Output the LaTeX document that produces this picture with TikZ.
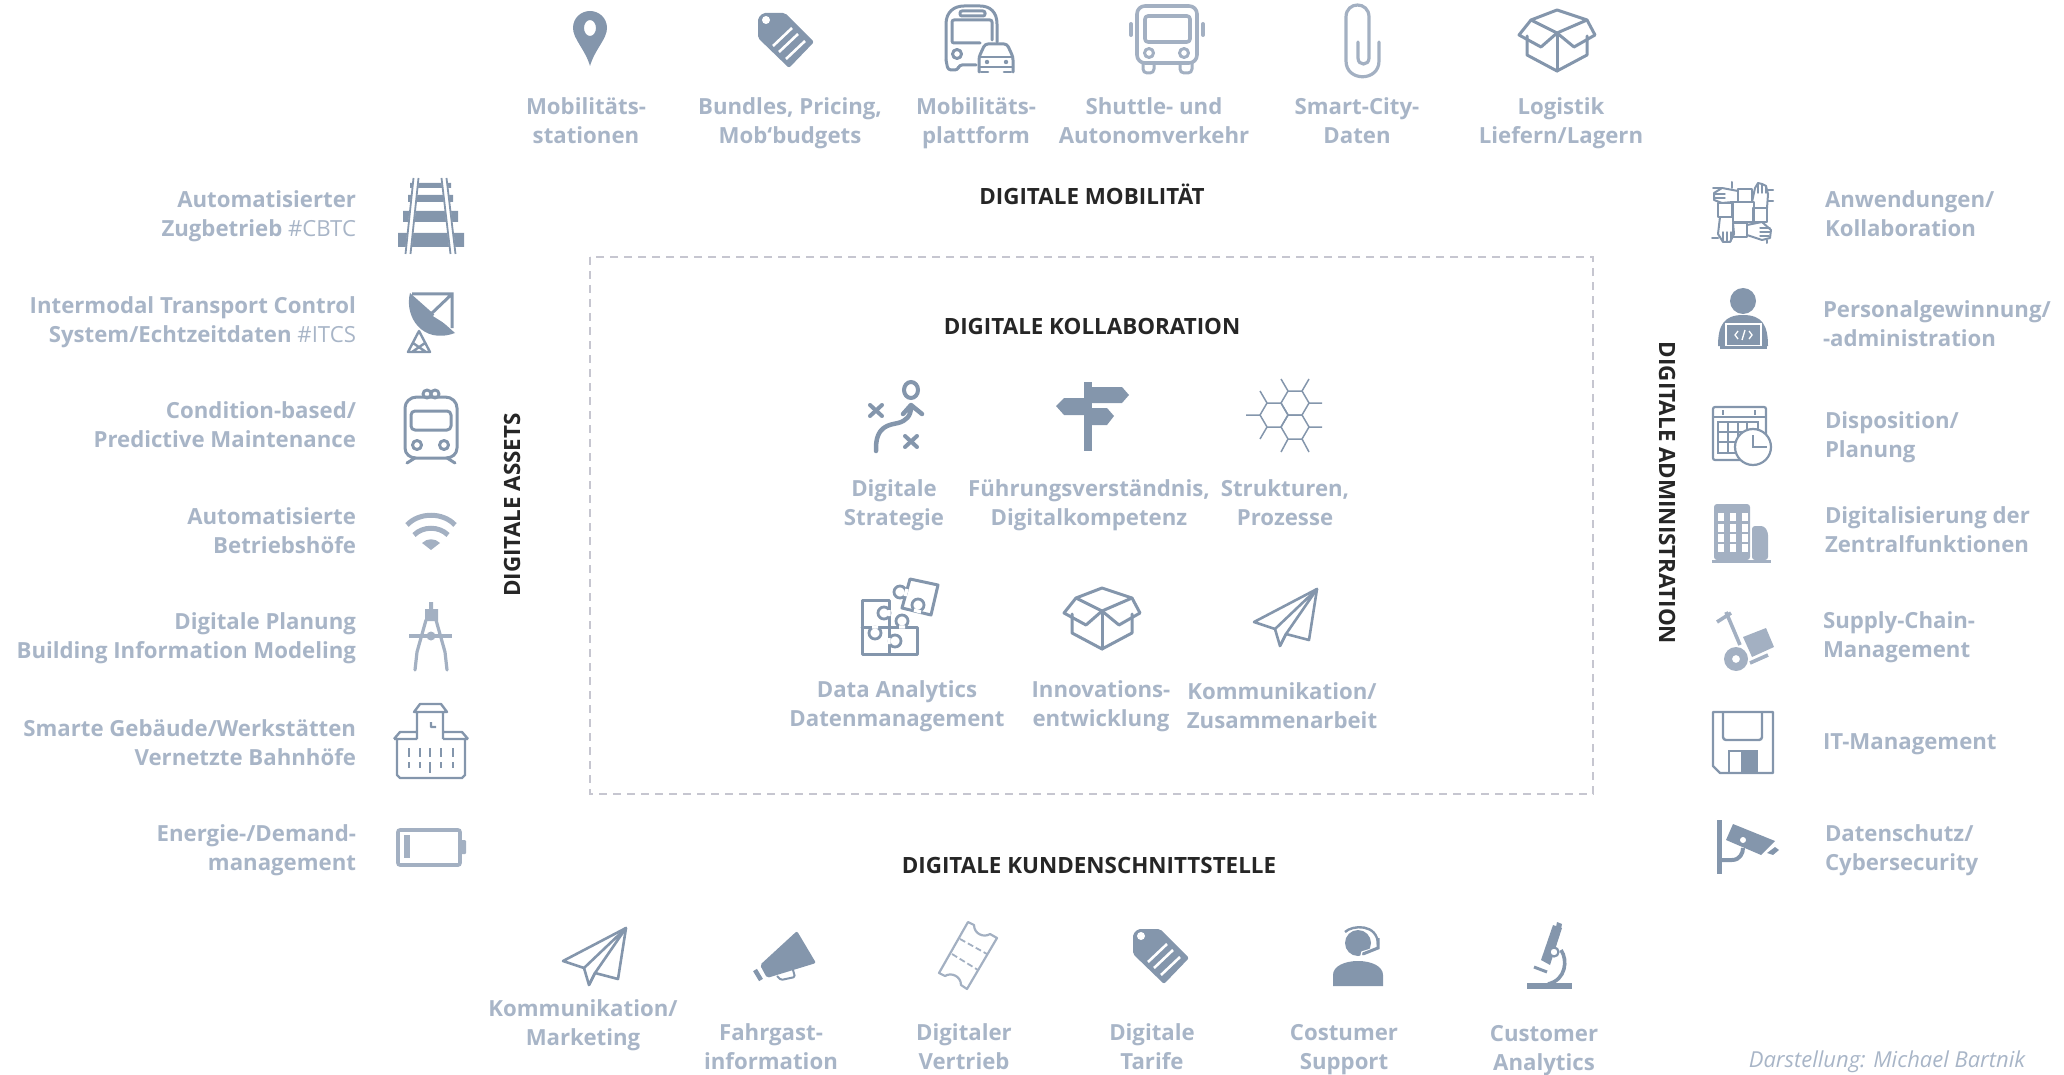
\documentclass[tikz,border=0pt]{standalone}
\usepackage{fontspec}
\setmainfont{Open Sans}
\newfontfamily\headfont{Open Sans}
\newcommand\st{\rule[-5pt]{0pt}{28pt}}
\newcommand\tl[2]{\st #1\\\st #2}
\definecolor{ic}{HTML}{8496AC}
\definecolor{icl}{HTML}{A3B0C2}
\definecolor{txt}{HTML}{A8B5C7}
\definecolor{hd}{HTML}{262626}
\definecolor{dashc}{HTML}{C6C6D0}
\tikzset{
  x=1pt,y=-1pt,
  lab/.style={inner sep=0pt,outer sep=0pt,text=txt,font=\fontsize{22.2}{29}\selectfont\bfseries,align=center},
  labl/.style={lab,anchor=east,align=right},
  labr/.style={lab,anchor=west,align=left},
  head/.style={inner sep=0pt,text=hd,font=\headfont\fontsize{22.4}{26}\selectfont\bfseries},
  ln/.style={draw=ic,line width=3pt,line cap=round,line join=round},
  lnl/.style={draw=icl,line width=3pt,line cap=round,line join=round},
  tagicon/.pic={
    \fill[ic,rounded corners=2pt] (-28,-23) -- (-23,-28) -- (-1,-28) -- (28,1) -- (3,27) -- (-28,-3) -- cycle;
    \fill[white] (-20,-21) circle (4);
    \draw[white,line width=2.6pt] (-13,5) -- (6,-13) (-7,11) -- (12,-7) (0,18) -- (19,0);
  },
  boxicon/.pic={
    \draw[ln,fill=white] (-30,-4) -- (-30,15) -- (0,31) -- (30,15) -- (30,-4);
    \draw[ln] (0,-7) -- (0,31);
    \draw[ln] (-26,-20) -- (0,-30) -- (30,-20) -- (0,-7) -- cycle;
    \draw[ln] (-26,-20) -- (-38,-5) -- (-16,7) -- (0,-7) -- (17,7) -- (38,-5) -- (30,-20);
  },
  planeicon/.pic={
    \draw[ln,line width=2.6pt] (30,-29) -- (-33,4) -- (-12,11) -- (-7,28) -- (-1,16) -- (22,22) -- cycle;
    \draw[ln,line width=2.6pt] (30,-29) -- (-12,11) (30,-29) -- (-1,16) -- (-7,28);
  },
}
\begin{document}
\begin{tikzpicture}
\useasboundingbox (0,0) rectangle (2064,1075);

% frame
\draw[draw=dashc,line width=2.2pt,dash pattern=on 8pt off 6pt] (590,257) rectangle (1593,794);

% headings
\node[head] (hMob) at (1092,194) {DIGITALE MOBILITÄT};
\node[head] (hKol) at (1092,326) {DIGITALE KOLLABORATION};
\node[head] (hKun) at (1089,865) {DIGITALE KUNDENSCHNITTSTELLE};
\node[head,rotate=90] (hAss) at (512,505) {DIGITALE ASSETS};
\node[head,rotate=-90] (hAdm) at (1667,493) {DIGITALE ADMINISTRATION};

% top labels
\node[lab] (t1) at (586,120) {\tl{Mobilitäts-}{stationen}};
\node[lab] (t2) at (790,120) {\tl{Bundles, Pricing,}{Mob‘budgets}};
\node[lab] (t3) at (976,120) {\tl{Mobilitäts-}{plattform}};
\node[lab] (t4) at (1154,120) {\tl{Shuttle- und}{Autonomverkehr}};
\node[lab] (t5) at (1357,120) {\tl{Smart-City-}{Daten}};
\node[lab] (t6) at (1561,120) {\tl{Logistik}{Liefern/Lagern}};

% left labels
\node[labl] (l1) at (356,213) {\tl{Automatisierter}{Zugbetrieb \mdseries\#CBTC}};
\node[labl] (l2) at (356,319) {\tl{Intermodal Transport Control}{System/Echtzeitdaten \mdseries\#ITCS}};
\node[labl] (l3) at (356,424) {\tl{Condition-based/}{Predictive Maintenance}};
\node[labl] (l4) at (356,530) {\tl{Automatisierte}{Betriebshöfe}};
\node[labl] (l5) at (356,635) {\tl{Digitale Planung}{Building Information Modeling}};
\node[labl] (l6) at (356,742) {\tl{Smarte Gebäude/Werkstätten}{Vernetzte Bahnhöfe}};
\node[labl] (l7) at (356,847) {\tl{Energie-/Demand-}{management}};

% right labels
\node[labr] (r1) at (1825,213) {\tl{Anwendungen/}{Kollaboration}};
\node[labr] (r2) at (1823,323) {\tl{Personalgewinnung/}{-administration}};
\node[labr] (r3) at (1825,434) {\tl{Disposition/}{Planung}};
\node[labr] (r4) at (1825,529) {\tl{Digitalisierung der}{Zentralfunktionen}};
\node[labr] (r5) at (1823,634) {\tl{Supply-Chain-}{Management}};
\node[labr] (r6) at (1823,741) {\st IT-Management};
\node[labr] (r7) at (1825,847) {\tl{Datenschutz/}{Cybersecurity}};

% centre labels
\node[lab] (c1) at (894,502) {\tl{Digitale}{Strategie}};
\node[lab] (c2) at (1089,502) {\tl{Führungsverständnis,}{Digitalkompetenz}};
\node[lab] (c3) at (1285,502) {\tl{Strukturen,}{Prozesse}};
\node[lab] (c4) at (897,703) {\tl{Data Analytics}{Datenmanagement}};
\node[lab] (c5) at (1101,703) {\tl{Innovations-}{entwicklung}};
\node[lab] (c6) at (1282,705) {\tl{Kommunikation/}{Zusammenarbeit}};

% bottom labels
\node[lab] (b1) at (583,1022) {\tl{Kommunikation/}{Marketing}};
\node[lab] (b2) at (771,1046) {\tl{Fahrgast-}{information}};
\node[lab] (b3) at (964,1046) {\tl{Digitaler}{Vertrieb}};
\node[lab] (b4) at (1152,1046) {\tl{Digitale}{Tarife}};
\node[lab] (b5) at (1344,1046) {\tl{Costumer}{Support}};
\node[lab] (b6) at (1544,1047) {\tl{Customer}{Analytics}};
\node[inner sep=0pt,text=txt,font=\fontsize{22}{24}\selectfont\itshape] (src) at (1887,1062) {Darstellung: Michael Bartnik};

%%% TOP ICONS
% pin
\fill[ic,even odd rule] (590,66) .. controls (585,49) and (573,39) .. (573,28) .. controls (573,18) and (581,11) .. (590,11) .. controls (599,11) and (607,18) .. (607,28) .. controls (607,39) and (595,49) .. (590,66) -- cycle (590,28) ellipse [x radius=6,y radius=8];
% tag
\pic at (786,41) {tagicon};
% bus + car
\draw[ln] (946,60) -- (946,24) .. controls (946,12) and (954,6) .. (964,6) -- (980,6) .. controls (990,6) and (997,12) .. (997,24) -- (997,42);
\draw[ln,rounded corners=2pt] (980,43) -- (952,43) -- (952,20) -- (992,20) -- (992,40);
\draw[ln,rounded corners=2pt] (960,11) rectangle (985,16);
\draw[ln] (957,54) circle (4.5);
\draw[ln,rounded corners=3pt] (946,60) -- (948,70) -- (958,70) -- (959,65) -- (976,65);
\draw[ln,fill=white,rounded corners=3pt] (979,72) -- (979,57) -- (985,44) -- (1007,44) -- (1013,57) -- (1013,72);
\draw[ln,line width=2.6pt] (979,57) -- (1013,57) (979,67) -- (1013,67) (981,72) -- (988,72) (1004,72) -- (1011,72);
\fill[ic] (987,62) circle (2.2) (1006,62) circle (2.2);
% bus
\draw[lnl,line width=3.6pt,rounded corners=8pt] (1137,6) rectangle (1197,63);
\draw[lnl,line width=3.6pt,rounded corners=3pt] (1145,16) rectangle (1190,42);
\draw[lnl] (1149,53) circle (4.5) (1184,53) circle (4.5);
\draw[lnl,rounded corners=4pt] (1143,63) -- (1143,73) -- (1154,73) -- (1154,63) (1180,63) -- (1180,73) -- (1192,73) -- (1192,63);
\draw[lnl,line width=4pt] (1131,24) -- (1131,35) (1203,24) -- (1203,35);
% clip
\draw[icl,line width=3.2pt,line cap=round] (1379,42) -- (1379,61) .. controls (1379,82) and (1346,82) .. (1346,61) -- (1346,17) .. controls (1346,1) and (1369,1) .. (1369,17) -- (1369,58) .. controls (1369,66) and (1358,66) .. (1358,58) -- (1358,42);
% box
\pic at (1557,40) {boxicon};

%%% LEFT ICONS
% rails
\fill[ic] (410,183) rectangle (451,188) (408,195) rectangle (453,202) (403,211) rectangle (458,222) (398,233) -- (464,233) -- (464,247) -- (398,247) -- cycle;
\draw[white,line width=6pt] (416,178) -- (408,254) (444,178) -- (453,254);
\draw[ic,line width=1.8pt] (413.5,178) -- (405.5,254) (418.5,178) -- (410.5,254) (441.5,178) -- (450.5,254) (446.5,178) -- (455.5,254);
% dish
\fill[ic] (410,293) .. controls (404,316) and (422,345) .. (455,333) -- cycle;
\fill[white] (452,297) -- (452,328) -- (433,316) -- cycle;
\draw[ic,line width=3pt] (412,294) -- (452,294) -- (452,328) (452,294) -- (431,314);
\draw[ic,line width=2.4pt,line join=round] (419,331) -- (408,352) -- (430,352) -- cycle (413,343) -- (426,352) (425,343) -- (412,352);
% train
\draw[ln] (417,397) -- (445,397) .. controls (452,397) and (457,402) .. (457,408) -- (457,448) .. controls (457,454) and (452,458) .. (446,458) -- (416,458) .. controls (410,458) and (405,454) .. (405,448) -- (405,408) .. controls (405,402) and (410,397) .. (417,397) -- cycle;
\draw[ln,rounded corners=4pt] (411,411) rectangle (451,430);
\draw[ln] (417,445) circle (4.5) (444,445) circle (4.5) (427,394) circle (4) (435,394) circle (4);
\draw[ln] (415,458) -- (407,463) (447,458) -- (455,463);
% wifi
\draw[icl,line width=5pt] (407,525) .. controls (419,512) and (443,512) .. (455,525);
\draw[icl,line width=5pt] (414,535) .. controls (423,526) and (439,526) .. (448,535);
\fill[icl] (431,550) -- (422,543) .. controls (427,538) and (435,538) .. (440,543) -- cycle;
% compass
\fill[icl] (429,602) rectangle (433,610) (425,609) rectangle (438,621);
\draw[icl,line width=3.4pt] (409,636) -- (452,636);
\draw[icl,line width=3.2pt,line cap=round] (426,620) -- (417,652) -- (415,670) (436,620) -- (445,652) -- (447,670);
\fill[icl] (431,636) circle (4.5);
% station building
\draw[ic,line width=2.4pt,line join=round] (397,740) -- (397,775) -- (400,778) -- (462,778) -- (465,775) -- (465,740) (394,739) -- (400,732) -- (417,732) (468,739) -- (462,732) -- (443,732) (394,739) -- (417,739) (443,739) -- (468,739) (417,712) -- (417,739) (443,712) -- (443,739) (414,712) -- (420,704) -- (441,704) -- (447,712) -- cycle (431,722) -- (431,727) -- (436,727);
\foreach \xx in {409,420,430,441,453}{\draw[ic,line width=2pt] (\xx,748) -- (\xx,757);}
\foreach \xx in {409,420,441,453}{\draw[ic,line width=2pt] (\xx,762) -- (\xx,768);}
\draw[ic,line width=2pt] (430,762) -- (430,773);
% battery
\draw[icl,line width=3.6pt,rounded corners=2pt] (398,830) rectangle (460,865);
\fill[icl,rounded corners=1pt] (461,840) rectangle (466,854);
\fill[icl] (404,835) rectangle (410,858);

%%% CENTRE ICONS
% strategy
\draw[ic,line width=4pt] (911,390) ellipse [x radius=7,y radius=8];
\draw[ic,line width=4pt,line cap=round] (870,405) -- (882,416) (882,405) -- (870,416) (905,436) -- (917,447) (917,436) -- (905,447);
\draw[ic,line width=4.5pt,line cap=round,line join=round] (876,451) .. controls (875,425) and (890,425) .. (898,423) .. controls (906,421) and (911,416) .. (911,407) (903,414) -- (911,405) -- (922,414);
% signpost
\fill[ic] (1084,382) rectangle (1092,451);
\fill[ic] (1084,387) -- (1122,387) -- (1129,395) -- (1122,403) -- (1084,403) -- cycle;
\fill[ic] (1084,398) -- (1064,398) -- (1056,406) -- (1064,415) -- (1084,415) -- cycle;
\fill[ic] (1092,408) -- (1107,408) -- (1114,416) -- (1107,425) -- (1092,425) -- cycle;
% honeycomb
\foreach \cx/\cy in {1295/403,1274/415,1295/427}{
  \draw[ic,line width=1.5pt] (\cx-14,\cy) -- (\cx-7,\cy-12) -- (\cx+7,\cy-12) -- (\cx+14,\cy) -- (\cx+7,\cy+12) -- (\cx-7,\cy+12) -- cycle;
}
\draw[ic,line width=1.5pt] (1288,391) -- (1281,379) (1302,391) -- (1309,379) (1309,403) -- (1322,403) (1267,403) -- (1260,391) (1260,415) -- (1246,415) (1267,427) -- (1260,439) (1309,427) -- (1322,427) (1288,439) -- (1281,452) (1302,439) -- (1309,452);
% puzzle
\draw[ln,fill=white] (862,600) -- (889,600) -- (889,627) -- (917,627) -- (917,654) -- (862,654) -- cycle (889,627) -- (889,654) (862,627) -- (889,627);
\draw[ln,fill=white] (910,579) -- (938,585) -- (931,615) -- (902,608) -- cycle;
\foreach \kx/\ky in {884/613,902/621,875/633,895/641,900/592,918/605}{\draw[ic,line width=2.8pt,fill=white] (\kx,\ky) circle (6);}
\draw[white,line width=3.4pt] (889,610) -- (889,616) (899,627) -- (905,627) (872,627) -- (878,627) (889,638) -- (889,644) (907,589) -- (905,596) (914,610) -- (921,612);
% box, plane
\pic at (1102,618) {boxicon};
\pic at (1287,618) {planeicon};

%%% RIGHT ICONS
% hands
\begin{scope}[ic,line width=2pt,line join=round,line cap=round]
\draw (1733,202) rectangle (1754,222);
\draw (1738,189) rectangle (1752,202) (1753,208) rectangle (1767,222) (1733,223) rectangle (1747,237) (1718,203) rectangle (1732,217);
\draw (1738,191) -- (1722,188) -- (1714,193) -- (1714,200) -- (1722,203) -- (1733,202);
\draw (1752,202) -- (1755,188) -- (1758,183) -- (1762,184) -- (1766,186) -- (1768,194) -- (1767,208);
\draw (1747,225) -- (1762,222) -- (1771,230) -- (1770,238) -- (1762,240) -- (1747,235);
\draw (1720,217) -- (1718,234) -- (1723,242) -- (1730,242) -- (1734,234) -- (1733,223);
\draw (1732,182) -- (1732,188) (1713,188) -- (1722,188) (1767,190) -- (1773,190) (1768,201) -- (1773,201) (1712,238) -- (1718,238) (1767,240) -- (1767,243);
\draw[line width=1.4pt] (1715,194) -- (1725,194) (1715,198) -- (1725,198) (1758,184) -- (1758,193) (1762,184) -- (1762,193) (1766,187) -- (1766,193) (1760,228) -- (1770,228) (1760,232) -- (1770,232) (1760,236) -- (1769,236) (1723,232) -- (1723,241) (1727,232) -- (1727,241) (1731,232) -- (1731,241);
\end{scope}
% person
\fill[ic] (1743,301) circle (13);
\fill[ic] (1718,346) .. controls (1718,325) and (1724,315) .. (1743,315) .. controls (1762,315) and (1768,325) .. (1768,346) -- cycle;
\draw[white,line width=1.6pt,fill=ic] (1726,324) rectangle (1761,346);
\fill[ic] (1720,346) rectangle (1767,349);
\draw[white,line width=1.3pt] (1738,331) -- (1735,335) -- (1738,339) (1749,331) -- (1752,335) -- (1749,339) (1745,330) -- (1742,340);
% calendar
\draw[ic,line width=2.2pt,rounded corners=2pt] (1713,407) rectangle (1766,460);
\draw[ic,line width=2.2pt] (1713,417) -- (1766,417) (1723,410) -- (1723,415) (1755,410) -- (1755,415);
\draw[ic,line width=2pt] (1718,422) rectangle (1758,453) (1718,432) -- (1758,432) (1718,442) -- (1758,442) (1728,422) -- (1728,453) (1738,422) -- (1738,453) (1747,422) -- (1747,453);
\draw[ic,line width=2.2pt,fill=white] (1753,447) circle (18);
\draw[ic,line width=2.2pt] (1753,435) -- (1753,447) -- (1767,447);
% city building
\fill[icl,rounded corners=3pt] (1714,560) -- (1714,504) -- (1750,504) -- (1750,560) -- cycle;
\fill[icl,rounded corners=3pt] (1752,560) -- (1752,526) -- (1764,526) -- (1768,532) -- (1768,560) -- cycle;
\fill[icl] (1712,560) rectangle (1771,562.5);
\foreach \wx in {1718,1730,1742}{\foreach \wy in {513,523.5,534,544}{\fill[white] (\wx,\wy) rectangle (\wx+6,\wy+8);}}
% cart
\draw[icl,line width=3.6pt] (1717,622) -- (1731,613) (1726,612) -- (1740,645) (1750,663) -- (1768,655);
\fill[icl] (1743,637) -- (1766,628) -- (1774,647) -- (1752,657) -- cycle;
\fill[icl,even odd rule] (1736,659) circle (12) (1736,659) circle (4);
% floppy
\draw[ic,line width=2.4pt,line join=round] (1713,712) -- (1773,712) -- (1773,773) -- (1720,773) -- (1713,766) -- cycle;
\draw[ic,line width=2.4pt,rounded corners=3pt] (1723,712) -- (1723,740) -- (1762,740) -- (1762,712);
\draw[ic,line width=2.4pt] (1729,773) -- (1729,751) -- (1757,751) -- (1757,773);
\fill[ic] (1741,751) rectangle (1757,772);
% camera
\fill[ic] (1717,820) rectangle (1722,874);
\fill[ic] (1733,824) -- (1775,841) -- (1761,855) -- (1726,840) -- cycle;
\fill[white] (1743,840) circle (3);
\fill[ic] (1767,853) -- (1775,847) -- (1779,850) -- (1773,855) -- cycle;
\draw[ic,line width=4pt] (1722,860) -- (1732,860) .. controls (1740,860) and (1743,853) .. (1743,848);

%%% BOTTOM ICONS
\pic at (596,957) {planeicon};
% megaphone
\fill[ic,rounded corners=2pt] (797,931) -- (816,963) -- (767,978) -- (760,965) -- cycle;
\draw[ic,line width=4.5pt] (755,970) -- (761,980);
\draw[ic,line width=2pt,line join=round,rounded corners=1.5pt] (777,976) -- (781,980) -- (795,977) -- (793,970);
% ticket
\draw[icl,line width=2.2pt,line join=round] (968,922) -- (974,925) .. controls (974,934) and (984,938) .. (990,934) -- (997,938) -- (967,989) -- (961,985) .. controls (961,976) and (951,972) .. (945,976) -- (939,973) -- cycle;
\draw[icl,line width=1.8pt,dash pattern=on 6pt off 3pt] (960,939) -- (987,954) (952,954) -- (978,970);
% tag
\pic at (1161,957) {tagicon};
% support
\fill[ic] (1358,943) circle (13);
\fill[ic] (1333,986) -- (1333,975) .. controls (1333,966) and (1345,961) .. (1358,961) .. controls (1371,961) and (1383,966) .. (1383,975) -- (1383,986) -- cycle;
\draw[ic,line width=2.4pt] (1345,932) .. controls (1352,925) and (1378,923) .. (1378,945);
\draw[white,line width=1.4pt] (1378,947) -- (1362,952) -- (1360,960);
\draw[ic,line width=3pt] (1378,938) -- (1378,948) -- (1363,954);
% microscope
\fill[ic] (1527,983) rectangle (1572,989);
\fill[ic] (1553,925) -- (1562,928) -- (1550,965) -- (1541,960) -- cycle;
\fill[ic] (1557,922) -- (1562,924) -- (1561,929) -- (1556,927) -- cycle;
\draw[ic,line width=2.2pt,fill=white] (1554,952) circle (4.5);
\draw[ic,line width=3.6pt] (1561,950) .. controls (1568,960) and (1566,980) .. (1548,984);
\draw[ic,line width=3pt] (1534,967) -- (1547,972);
\end{tikzpicture}
\end{document}
